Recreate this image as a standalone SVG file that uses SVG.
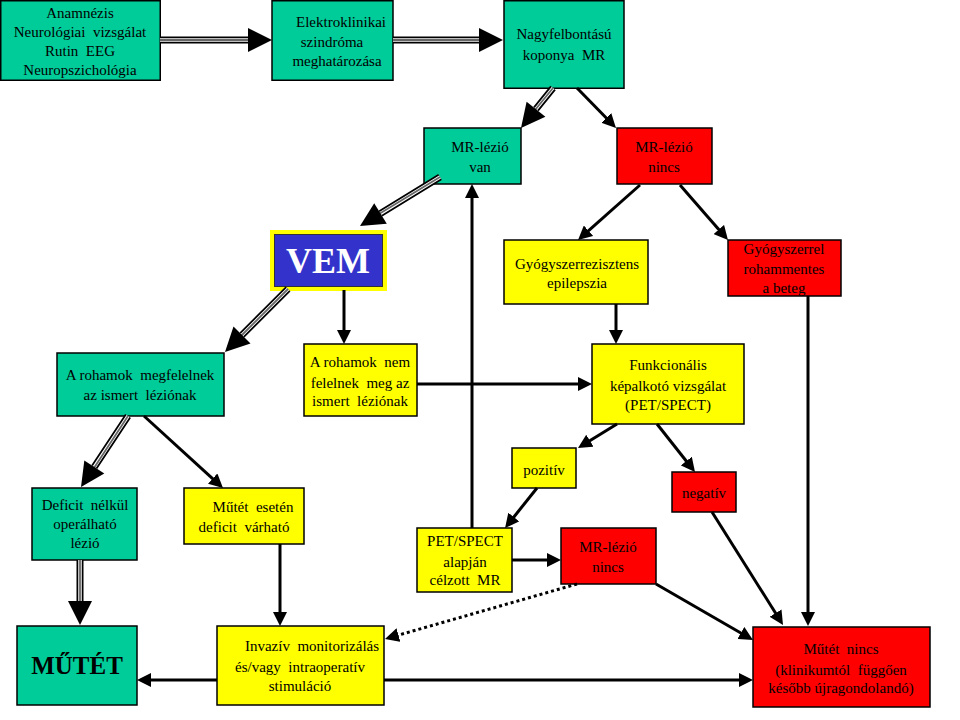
<svg xmlns="http://www.w3.org/2000/svg" width="960" height="720" viewBox="0 0 960 720">
<style>
.b{stroke:#000;stroke-width:1.5}
.g{fill:#00CC99}.r{fill:#FF0000}.y{fill:#FFFF00}
text{font-family:"Liberation Serif","Times New Roman",serif;font-size:15px;fill:#000;text-anchor:middle;white-space:pre}
.t1{stroke:#000;stroke-width:7;fill:none}
.t2{stroke:#fff;stroke-width:3.5;fill:none}
.t3{stroke:#666;stroke-width:1.8;fill:none}
.th{fill:#000}
.a{stroke:#000;stroke-width:3;fill:none;marker-end:url(#ah)}
.d{stroke:#000;stroke-width:3;fill:none;stroke-dasharray:3 3;marker-end:url(#ah)}
</style>
<defs>
<marker id="ah" markerUnits="userSpaceOnUse" markerWidth="14" markerHeight="14" viewBox="0 0 14 14" refX="4" refY="7" orient="auto">
<path d="M0,0 L14,7 L0,14 z" fill="#000"/>
</marker>
</defs>
<rect width="960" height="720" fill="#fff"/>

<g id="n-anamnezis"><rect class="b g" x="0.75" y="0.75" width="159.5" height="79.5"/>
<text x="80" y="18">Anamnézis</text><text x="80" y="37" xml:space="preserve">Neurológiai  vizsgálat</text><text x="80" y="56" xml:space="preserve">Rutin  EEG</text><text x="80" y="75">Neuropszichológia</text></g>

<g id="n-elektro"><rect class="b g" x="272" y="0.75" width="121" height="79.5"/>
<text x="341" y="27">Elektroklinikai</text><text x="332" y="47">szindróma</text><text x="337" y="66">meghatározása</text></g>

<g id="n-mr"><rect class="b g" x="504" y="0.75" width="120" height="87.5"/>
<text x="564" y="39">Nagyfelbontású</text><text x="564" y="60" xml:space="preserve">koponya  MR</text></g>

<g id="n-mrvan"><rect class="b g" x="424" y="128" width="97" height="56"/>
<text x="480" y="152">MR-lézió</text><text x="480" y="172">van</text></g>

<g id="n-mrnincs"><rect class="b r" x="617" y="128" width="95" height="56"/>
<text x="664" y="152">MR-lézió</text><text x="664" y="172">nincs</text></g>

<g id="n-vem"><rect x="272" y="232" width="113" height="57" fill="#3333CC" stroke="#FFFF00" stroke-width="4"/>
<rect x="274.5" y="234.5" width="108" height="52" fill="none" stroke="#333" stroke-width="1"/>
<text x="328" y="273" style="font-size:36px;font-weight:bold;fill:#fff">VEM</text></g>

<g id="n-gyrez"><rect class="b y" x="504" y="240" width="144" height="64"/>
<text x="577" y="269">Gyógyszerrezisztens</text><text x="577" y="288">epilepszia</text></g>

<g id="n-gyrohm"><rect class="b r" x="728" y="240" width="113" height="56"/>
<text x="784" y="254">Gyógyszerrel</text><text x="784" y="274">rohammentes</text><text x="784" y="293">a beteg</text></g>

<g id="n-megfelel"><rect class="b g" x="57" y="353" width="167" height="63"/>
<text x="140" y="380" xml:space="preserve">A rohamok  megfelelnek</text><text x="140" y="400" xml:space="preserve">az ismert  léziónak</text></g>

<g id="n-nemfelel"><rect class="b y" x="304" y="344" width="113" height="72"/>
<text x="360" y="367" xml:space="preserve">A rohamok  nem</text><text x="360" y="388" xml:space="preserve">felelnek  meg az</text><text x="360" y="406" xml:space="preserve">ismert  léziónak</text></g>

<g id="n-funk"><rect class="b y" x="592" y="344" width="152" height="80"/>
<text x="668" y="370">Funkcionális</text><text x="668" y="391">képalkotó vizsgálat</text><text x="668" y="410">(PET/SPECT)</text></g>

<g id="n-pozitiv"><rect class="b y" x="512" y="448" width="64" height="40"/>
<text x="544" y="475">pozitív</text></g>

<g id="n-negativ"><rect class="b r" x="672" y="472" width="64" height="40"/>
<text x="704" y="498">negatív</text></g>

<g id="n-deficit"><rect class="b g" x="32" y="488" width="105" height="72"/>
<text x="85" y="510" xml:space="preserve">Deficit  nélkül</text><text x="85" y="529">operálható</text><text x="85" y="548">lézió</text></g>

<g id="n-mutetesetén"><rect class="b y" x="184" y="488" width="120" height="56"/>
<text x="253" y="512" xml:space="preserve">Műtét  esetén</text><text x="244" y="532" xml:space="preserve">deficit  várható</text></g>

<g id="n-petmr"><rect class="b y" x="417" y="528" width="95" height="64"/>
<text x="465" y="546">PET/SPECT</text><text x="465" y="567">alapján</text><text x="465" y="585" xml:space="preserve">célzott  MR</text></g>

<g id="n-mrnincs2"><rect class="b r" x="561" y="528" width="95" height="56"/>
<text x="608" y="552">MR-lézió</text><text x="608" y="572">nincs</text></g>

<g id="n-mutet"><rect class="b g" x="17" y="626" width="120" height="79"/>
<text x="77" y="674" style="font-size:25px;font-weight:bold">MŰTÉT</text></g>

<g id="n-invaziv"><rect class="b y" x="217" y="626" width="167" height="79"/>
<text x="312" y="651" xml:space="preserve">Invazív  monitorizálás</text><text x="300" y="672" xml:space="preserve">és/vagy  intraoperatív</text><text x="300" y="691">stimuláció</text></g>

<g id="n-mutetnincs"><rect class="b r" x="753" y="627" width="177" height="80"/>
<text x="841" y="654" xml:space="preserve">Műtét  nincs</text><text x="841" y="675" xml:space="preserve">(klinikumtól  függően</text><text x="841" y="693">később újragondolandó)</text></g>

<g id="connectors">
<path class="t1" d="M160,40 L248,40 M393,40 L479,40 M553,88 L536,109 M440,177 L380.5,213.5 M288,289 L242,335 M128,416 L94.3,467 M80,560 L80,601"/>
<path class="t2" d="M160,40 L248,40 M393,40 L479,40 M553,88 L536,109 M440,177 L380.5,213.5 M288,289 L242,335 M128,416 L94.3,467 M80,560 L80,601"/>
<path class="t3" d="M160,40 L249,40 M393,40 L480,40 M553,88 L535,110 M440,177 L379,214 M288,289 L241,336 M128,416 L94,468 M80,560 L80,602"/>
<polygon class="th" points="248,28 272,40 248,52"/>
<polygon class="th" points="479,28 503,40 479,52"/>
<polygon class="th" points="545.4,116.7 521,128 526.6,101.8"/>
<polygon class="th" points="386.8,223.7 360,226 374.2,203.3"/>
<polygon class="th" points="250.5,343.5 225,352 233.5,326.5"/>
<polygon class="th" points="104.3,473.6 81,487 84.3,460.4"/>
<polygon class="th" points="68,601 80,625 92,601"/>

<line class="a" x1="577" y1="88" x2="609" y2="120.8"/>
<line class="a" x1="640" y1="185" x2="585.5" y2="233.4"/>
<line class="a" x1="680" y1="185" x2="721.4" y2="232.5"/>
<line class="a" x1="808" y1="296" x2="808" y2="616"/>
<line class="a" x1="616" y1="304" x2="616" y2="334"/>
<line class="a" x1="344" y1="290" x2="344" y2="334"/>
<line class="a" x1="417" y1="384" x2="582" y2="384"/>
<line class="a" x1="472" y1="528" x2="472" y2="194"/>
<line class="a" x1="617" y1="424" x2="586.5" y2="442.8"/>
<line class="a" x1="657" y1="424" x2="688.8" y2="464.2"/>
<line class="a" x1="537" y1="488" x2="511.3" y2="520.2"/>
<line class="a" x1="512" y1="560" x2="551" y2="560"/>
<line class="a" x1="712" y1="512" x2="777.7" y2="616.5"/>
<line class="a" x1="656" y1="584" x2="744.3" y2="635"/>
<line class="a" x1="144" y1="416" x2="215.6" y2="481.3"/>
<line class="a" x1="280" y1="544" x2="280" y2="616"/>
<line class="a" x1="217" y1="680" x2="147" y2="680"/>
<line class="a" x1="384" y1="680" x2="743" y2="680"/>
<line class="d" x1="577" y1="584" x2="394.6" y2="636.2"/>
</g>
</svg>
